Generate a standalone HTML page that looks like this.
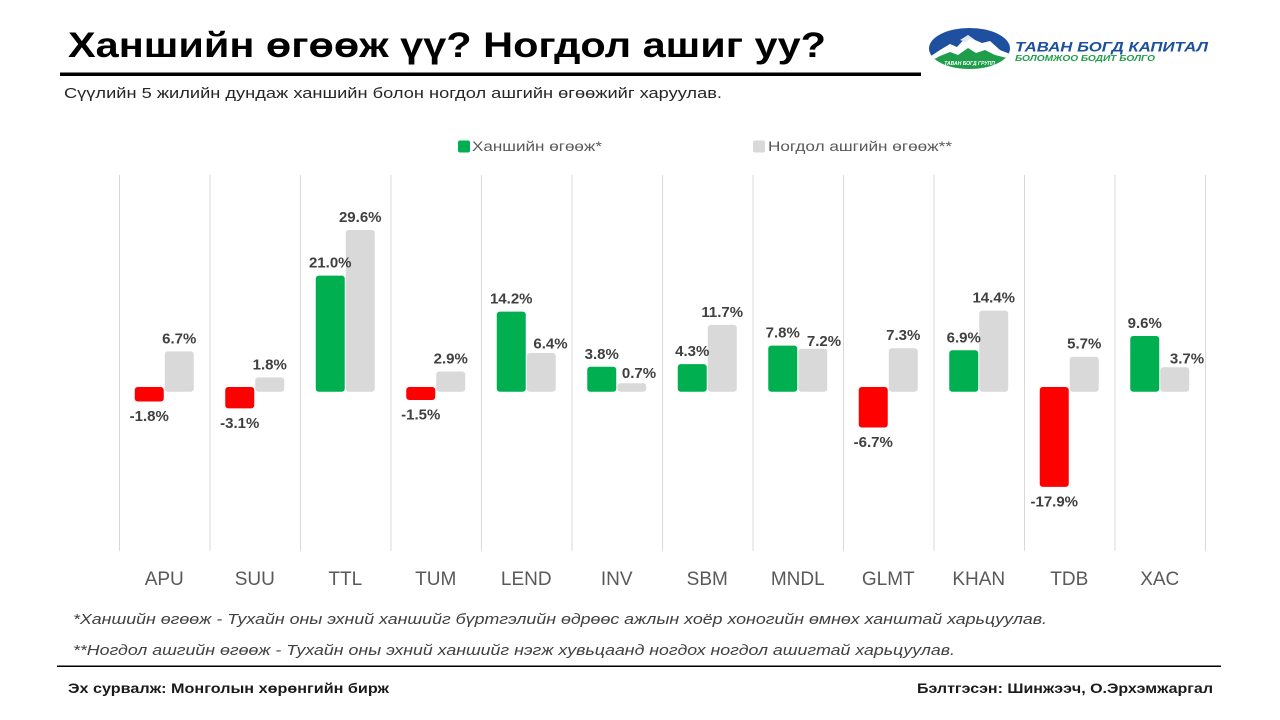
<!DOCTYPE html>
<html>
<head>
<meta charset="utf-8">
<style>
  html, body { margin:0; padding:0; background:#ffffff; }
  svg { display:block; }
  .lbl { font-family:"Liberation Sans", "DejaVu Sans", sans-serif; font-weight:bold; font-size:15px; fill:#404040; text-anchor:middle; }
  .ax { font-family:"Liberation Sans", "DejaVu Sans", sans-serif; font-size:19px; fill:#595959; text-anchor:middle; }
</style>
</head>
<body>
<svg width="1280" height="720" viewBox="0 0 1280 720" xmlns="http://www.w3.org/2000/svg">
  <rect x="0" y="0" width="1280" height="720" fill="#ffffff"/>

  <!-- Title -->
  <text x="68" y="57" font-family="Liberation Sans, DejaVu Sans, sans-serif" font-weight="bold" font-size="35" fill="#000000" textLength="758" lengthAdjust="spacingAndGlyphs">Ханшийн өгөөж үү? Ногдол ашиг уу?</text>
  <rect x="60" y="72.5" width="861" height="3.5" fill="#000000"/>

  <!-- Subtitle -->
  <text x="64" y="98" font-family="Liberation Sans, DejaVu Sans, sans-serif" font-size="15" fill="#262626" textLength="658" lengthAdjust="spacingAndGlyphs">Сүүлийн 5 жилийн дундаж ханшийн болон ногдол ашгийн өгөөжийг харуулав.</text>

  <!-- Logo -->
  <defs>
    <clipPath id="ec"><ellipse cx="969.5" cy="48.5" rx="40.5" ry="20.5"/></clipPath>
  </defs>
  <g clip-path="url(#ec)">
    <rect x="925" y="25" width="90" height="50" fill="#1f4f9f"/>
    <path d="M925,60 L940,50 L950,44 L957,47 L968,35 L975,40 L982,43 L990,41 L1000,50 L1015,56 L1015,75 L925,75 Z" fill="#ffffff"/>
    <path d="M925,64 L940,56 L950,52 L958,55 L968,48 L976,53 L985,50 L995,55 L1015,60 L1015,75 L925,75 Z" fill="#1e9e4a"/>
    <path d="M960,40 L968,35 L975,40 L970,39 L966,42 Z" fill="#dfe8f5"/>
  </g>
  <text x="969.5" y="65" font-family="Liberation Sans, DejaVu Sans, sans-serif" font-weight="bold" font-style="italic" font-size="5" fill="#ffffff" text-anchor="middle">ТАВАН БОГД ГРУПП</text>
  <text x="1015" y="51.5" font-family="Liberation Sans, DejaVu Sans, sans-serif" font-weight="bold" font-style="italic" font-size="14" fill="#1c4f9c" textLength="193" lengthAdjust="spacingAndGlyphs">ТАВАН БОГД КАПИТАЛ</text>
  <text x="1015" y="61" font-family="Liberation Sans, DejaVu Sans, sans-serif" font-weight="bold" font-style="italic" font-size="8" fill="#1e9e4a" textLength="140" lengthAdjust="spacingAndGlyphs">БОЛОМЖОО БОДИТ БОЛГО</text>

  <!-- Legend -->
  <rect x="458" y="140.5" width="12" height="12" rx="2" fill="#00b050"/>
  <text x="472" y="151" font-family="Liberation Sans, DejaVu Sans, sans-serif" font-size="14" fill="#595959" textLength="130" lengthAdjust="spacingAndGlyphs">Ханшийн өгөөж*</text>
  <rect x="753" y="140.5" width="12" height="12" rx="2" fill="#d9d9d9"/>
  <text x="768" y="151" font-family="Liberation Sans, DejaVu Sans, sans-serif" font-size="14" fill="#595959" textLength="184" lengthAdjust="spacingAndGlyphs">Ногдол ашгийн өгөөж**</text>

  <!-- Gridlines -->
  <g stroke="#d9d9d9" stroke-width="1">
    <line x1="119.5" y1="175" x2="119.5" y2="551"/>
    <line x1="210" y1="175" x2="210" y2="551"/>
    <line x1="300.5" y1="175" x2="300.5" y2="551"/>
    <line x1="391" y1="175" x2="391" y2="551"/>
    <line x1="481.5" y1="175" x2="481.5" y2="551"/>
    <line x1="572" y1="175" x2="572" y2="551"/>
    <line x1="662.5" y1="175" x2="662.5" y2="551"/>
    <line x1="753" y1="175" x2="753" y2="551"/>
    <line x1="843.5" y1="175" x2="843.5" y2="551"/>
    <line x1="934" y1="175" x2="934" y2="551"/>
    <line x1="1024.5" y1="175" x2="1024.5" y2="551"/>
    <line x1="1115" y1="175" x2="1115" y2="551"/>
    <line x1="1205.5" y1="175" x2="1205.5" y2="551"/>
  </g>

  <!-- Bars -->
  <!-- APU -->
  <rect x="134.75" y="387" width="29" height="14.5" rx="3" fill="#ff0000"/>
  <rect x="164.75" y="351.4" width="29" height="40.3" rx="3" fill="#d9d9d9"/>
  <!-- SUU -->
  <rect x="225.25" y="387" width="29" height="21.4" rx="3" fill="#ff0000"/>
  <rect x="255.25" y="377.4" width="29" height="14.3" rx="3" fill="#d9d9d9"/>
  <!-- TTL -->
  <rect x="315.75" y="275.6" width="29" height="116.1" rx="3" fill="#00b050"/>
  <rect x="345.75" y="230" width="29" height="161.7" rx="3" fill="#d9d9d9"/>
  <!-- TUM -->
  <rect x="406.25" y="387" width="29" height="13" rx="3" fill="#ff0000"/>
  <rect x="436.25" y="371.5" width="29" height="20.2" rx="3" fill="#d9d9d9"/>
  <!-- LEND -->
  <rect x="496.75" y="311.6" width="29" height="80.1" rx="3" fill="#00b050"/>
  <rect x="526.75" y="353" width="29" height="38.7" rx="3" fill="#d9d9d9"/>
  <!-- INV -->
  <rect x="587.25" y="366.8" width="29" height="24.9" rx="3" fill="#00b050"/>
  <rect x="617.25" y="383.2" width="29" height="8.5" rx="3" fill="#d9d9d9"/>
  <!-- SBM -->
  <rect x="677.75" y="364.1" width="29" height="27.6" rx="3" fill="#00b050"/>
  <rect x="707.75" y="324.9" width="29" height="66.8" rx="3" fill="#d9d9d9"/>
  <!-- MNDL -->
  <rect x="768.25" y="345.6" width="29" height="46.1" rx="3" fill="#00b050"/>
  <rect x="798.25" y="348.7" width="29" height="43" rx="3" fill="#d9d9d9"/>
  <!-- GLMT -->
  <rect x="858.75" y="387" width="29" height="40.5" rx="3" fill="#ff0000"/>
  <rect x="888.75" y="348.2" width="29" height="43.5" rx="3" fill="#d9d9d9"/>
  <!-- KHAN -->
  <rect x="949.25" y="350.3" width="29" height="41.4" rx="3" fill="#00b050"/>
  <rect x="979.25" y="310.6" width="29" height="81.1" rx="3" fill="#d9d9d9"/>
  <!-- TDB -->
  <rect x="1039.75" y="387" width="29" height="99.9" rx="3" fill="#ff0000"/>
  <rect x="1069.75" y="356.7" width="29" height="35" rx="3" fill="#d9d9d9"/>
  <!-- XAC -->
  <rect x="1130.25" y="336" width="29" height="55.7" rx="3" fill="#00b050"/>
  <rect x="1160.25" y="367.3" width="29" height="24.4" rx="3" fill="#d9d9d9"/>

  <!-- Data labels -->
  <text class="lbl" x="149.25" y="421">-1.8%</text>
  <text class="lbl" x="179.25" y="343.4">6.7%</text>
  <text class="lbl" x="239.75" y="427.9">-3.1%</text>
  <text class="lbl" x="269.75" y="369.4">1.8%</text>
  <text class="lbl" x="330.25" y="267.6">21.0%</text>
  <text class="lbl" x="360.25" y="222">29.6%</text>
  <text class="lbl" x="420.75" y="419.5">-1.5%</text>
  <text class="lbl" x="450.75" y="363.5">2.9%</text>
  <text class="lbl" x="511.25" y="303.6">14.2%</text>
  <text class="lbl" x="550.5" y="348.7">6.4%</text>
  <text class="lbl" x="601.75" y="358.8">3.8%</text>
  <text class="lbl" x="639" y="378">0.7%</text>
  <text class="lbl" x="692.25" y="356.1">4.3%</text>
  <text class="lbl" x="722.25" y="316.9">11.7%</text>
  <text class="lbl" x="782.75" y="337.6">7.8%</text>
  <text class="lbl" x="824" y="346">7.2%</text>
  <text class="lbl" x="873.25" y="447">-6.7%</text>
  <text class="lbl" x="903.25" y="340.2">7.3%</text>
  <text class="lbl" x="963.75" y="342.3">6.9%</text>
  <text class="lbl" x="993.75" y="302.6">14.4%</text>
  <text class="lbl" x="1054.25" y="506.4">-17.9%</text>
  <text class="lbl" x="1084.25" y="348.7">5.7%</text>
  <text class="lbl" x="1144.75" y="328">9.6%</text>
  <text class="lbl" x="1187" y="363.7">3.7%</text>

  <!-- Axis labels -->
  <text class="ax" x="164.25" y="585">APU</text>
  <text class="ax" x="254.75" y="585">SUU</text>
  <text class="ax" x="345.25" y="585">TTL</text>
  <text class="ax" x="435.75" y="585">TUM</text>
  <text class="ax" x="526.25" y="585">LEND</text>
  <text class="ax" x="616.75" y="585">INV</text>
  <text class="ax" x="707.25" y="585">SBM</text>
  <text class="ax" x="797.75" y="585">MNDL</text>
  <text class="ax" x="888.25" y="585">GLMT</text>
  <text class="ax" x="978.75" y="585">KHAN</text>
  <text class="ax" x="1069.25" y="585">TDB</text>
  <text class="ax" x="1159.75" y="585">XAC</text>

  <!-- Footnotes -->
  <text x="73" y="624" font-family="Liberation Sans, DejaVu Sans, sans-serif" font-style="italic" font-size="15" fill="#404040" textLength="974" lengthAdjust="spacingAndGlyphs">*Ханшийн өгөөж -  Тухайн оны эхний ханшийг бүртгэлийн өдрөөс ажлын хоёр хоногийн өмнөх ханштай харьцуулав.</text>
  <text x="73" y="655" font-family="Liberation Sans, DejaVu Sans, sans-serif" font-style="italic" font-size="15" fill="#404040" textLength="882" lengthAdjust="spacingAndGlyphs">**Ногдол ашгийн өгөөж - Тухайн  оны эхний ханшийг нэгж хувьцаанд ногдох ногдол ашигтай харьцуулав.</text>

  <!-- Footer -->
  <rect x="57" y="665.5" width="1164" height="1.5" fill="#000000"/>
  <text x="68" y="693" font-family="Liberation Sans, DejaVu Sans, sans-serif" font-weight="bold" font-size="14" fill="#1a1a1a" textLength="321" lengthAdjust="spacingAndGlyphs">Эх сурвалж: Монголын хөрөнгийн бирж</text>
  <text x="917" y="693" font-family="Liberation Sans, DejaVu Sans, sans-serif" font-weight="bold" font-size="14" fill="#1a1a1a" textLength="296" lengthAdjust="spacingAndGlyphs">Бэлтгэсэн: Шинжээч, О.Эрхэмжаргал</text>
</svg>
</body>
</html>
